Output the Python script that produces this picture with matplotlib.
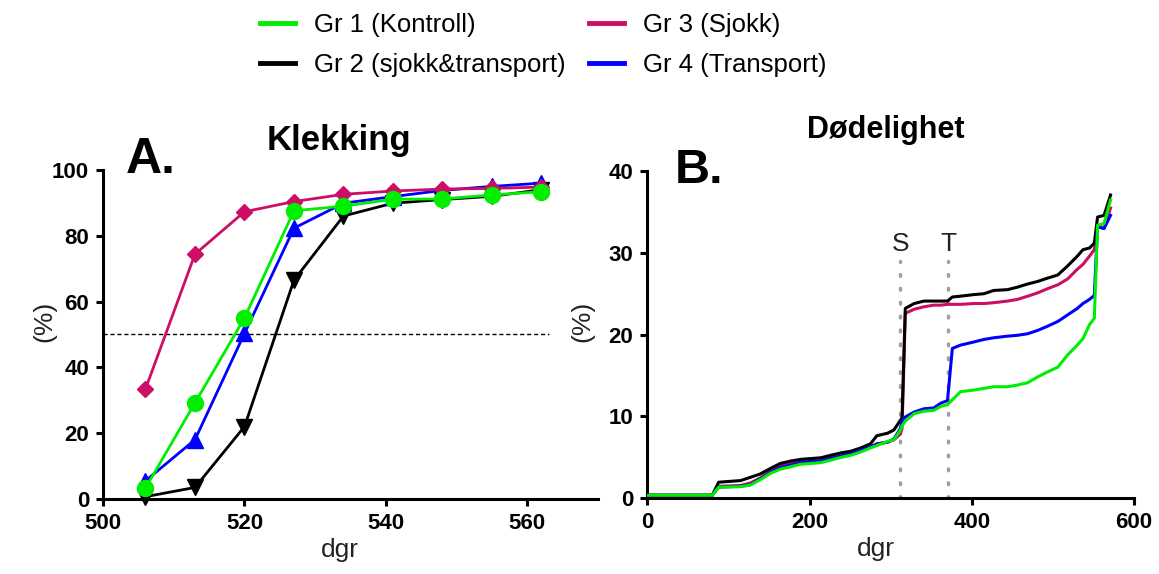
import matplotlib
matplotlib.use("Agg")
import matplotlib.pyplot as plt
from matplotlib.lines import Line2D

plt.rcParams['font.family'] = ['Liberation Sans', 'DejaVu Sans']

# colours per group
c_gr1 = '#00ee00'
c_gr2 = '#000000'
c_gr3 = '#cc0e66'
c_gr4 = '#0000ff'

labels = ['Gr 1 (Kontroll)', 'Gr 2 (sjokk&transport)', 'Gr 3 (Sjokk)', 'Gr 4 (Transport)']

# A. Klekking (hatching, %)
dgr_a = [506, 513, 520, 527, 534, 541, 548, 555, 562]
klekk_gr1 = [3.3, 29.2, 55.0, 87.6, 89.0, 91.1, 91.2, 92.4, 93.4]
klekk_gr2 = [0.7, 3.5, 22.0, 66.5, 86.0, 89.9, 91.0, 92.0, 94.0]
klekk_gr3 = [33.4, 74.4, 87.3, 90.4, 92.6, 93.6, 94.2, 94.4, 94.8]
klekk_gr4 = [5.5, 18.0, 50.3, 82.3, 89.9, 91.9, 93.8, 95.0, 96.0]

# B. Dødelighet (cumulative mortality, %)
dgr_b = [0, 80, 88, 115, 127, 139, 152, 164, 177, 189, 202, 214, 226, 239, 251,
         263, 275, 283, 296, 304, 312, 314, 318, 329, 341, 353, 362, 370, 376, 386,
         403, 415, 427, 444, 456, 469, 481, 493, 506, 518, 530, 537, 545, 551, 555,
         563, 571]
dod_gr1 = [0.3, 0.3, 1.3, 1.35, 1.55, 2.2, 3.0, 3.5, 3.8, 4.1, 4.2, 4.3, 4.6, 4.95, 5.2,
           5.6, 6.1, 6.4, 6.9, 7.1, 8.3, 8.8, 9.4, 10.3, 10.6, 10.7, 11.2, 11.4, 12.0, 13.0,
           13.2, 13.4, 13.6, 13.6, 13.8, 14.1, 14.8, 15.4, 16.0, 17.5, 18.7, 19.5, 21.2, 22.0, 33.4,
           33.6, 36.5]
dod_gr2 = [0.3, 0.3, 1.9, 2.1, 2.5, 2.9, 3.6, 4.2, 4.5, 4.7, 4.8, 4.9, 5.2, 5.5, 5.7,
           6.1, 6.6, 7.6, 7.9, 8.3, 9.5, 9.8, 23.2, 23.8, 24.1, 24.1, 24.1, 24.1, 24.6, 24.7,
           24.9, 25.0, 25.4, 25.5, 25.8, 26.2, 26.5, 26.9, 27.3, 28.4, 29.6, 30.4, 30.6, 31.2, 34.4,
           34.6, 37.1]
dod_gr3 = [0.3, 0.3, 1.4, 1.5, 1.8, 2.4, 3.3, 3.9, 4.2, 4.4, 4.5, 4.6, 4.9, 5.2, 5.4,
           5.8, 6.2, 6.6, 6.8, 7.1, 7.8, 8.5, 22.6, 23.1, 23.4, 23.6, 23.6, 23.7, 23.7, 23.7,
           23.8, 23.8, 23.9, 24.1, 24.3, 24.7, 25.1, 25.6, 26.1, 26.8, 28.0, 28.6, 29.6, 30.4, 33.2,
           33.0, 35.5]
dod_gr4 = [0.3, 0.3, 1.3, 1.4, 1.6, 2.3, 3.1, 3.7, 4.0, 4.3, 4.4, 4.5, 4.8, 5.1, 5.4,
           5.8, 6.2, 6.6, 6.8, 7.2, 8.5, 9.4, 9.9, 10.5, 10.9, 11.0, 11.6, 11.9, 18.3, 18.7,
           19.1, 19.4, 19.6, 19.8, 19.9, 20.1, 20.5, 21.0, 21.6, 22.4, 23.2, 23.8, 24.3, 24.8, 33.2,
           33.0, 34.6]

s_dgr = 312   # sjokk
t_dgr = 371   # transport

fig = plt.figure(figsize=(11.59, 5.74), dpi=100)
axA = fig.add_axes([0.0889, 0.1307, 0.4271, 0.5732])
axB = fig.add_axes([0.5585, 0.1329, 0.4200, 0.5686])


def style_axis(ax, ylab_x, xlab_x):
    for s in ['top', 'right']:
        ax.spines[s].set_visible(False)
    for s in ['left', 'bottom']:
        ax.spines[s].set_linewidth(2.2)
    ax.tick_params(width=2.2, length=5, labelsize=16, pad=5)
    for lab in ax.get_xticklabels() + ax.get_yticklabels():
        lab.set_fontweight('bold')
    ax.set_xlabel('dgr', fontsize=19, color='#222222')
    ax.set_ylabel('(%)', fontsize=19, color='#222222')
    ax.yaxis.set_label_coords(ylab_x, 0.54)
    ax.xaxis.set_label_coords(xlab_x, -0.12)


# panel A
axA.axhline(50, xmin=0, xmax=(563 - 500) / 70.0, color='black', lw=1, ls=(0, (3, 2)))
axA.plot(dgr_a, klekk_gr2, color=c_gr2, lw=2, marker='v', ms=11, clip_on=False, zorder=3)
axA.plot(dgr_a, klekk_gr4, color=c_gr4, lw=2, marker='^', ms=11, clip_on=False, zorder=3)
axA.plot(dgr_a, klekk_gr3, color=c_gr3, lw=2, marker='D', ms=8.5, clip_on=False, zorder=3)
axA.plot(dgr_a, klekk_gr1, color=c_gr1, lw=2, marker='o', ms=11.5, clip_on=False, zorder=4)
axA.set_xlim(500, 570)
axA.set_ylim(0, 100)
axA.set_xticks([500, 520, 540, 560])
axA.set_yticks([0, 20, 40, 60, 80, 100])
style_axis(axA, -0.095, 0.479)

# panel B
for xv, lab in [(s_dgr, 'S'), (t_dgr, 'T')]:
    axB.plot([xv, xv], [0, 29], color='#a0a0a0', lw=2.5, ls=(0, (0.5, 3.5)),
             dash_capstyle='round', zorder=1)
    axB.text(xv, 29.6, lab, fontsize=19, ha='center', va='bottom', color='#222222')
axB.plot(dgr_b, dod_gr3, color=c_gr3, lw=2.2, zorder=2)
axB.plot(dgr_b, dod_gr2, color=c_gr2, lw=2.2, zorder=3)
axB.plot(dgr_b, dod_gr4, color=c_gr4, lw=2.2, zorder=3)
axB.plot(dgr_b, dod_gr1, color=c_gr1, lw=2.2, zorder=4)
axB.set_xlim(0, 600)
axB.set_ylim(0, 40)
axB.set_xticks([0, 200, 400, 600])
axB.set_yticks([0, 10, 20, 30, 40])
style_axis(axB, -0.109, 0.47)

# titles and panel letters
fig.text(0.2925, 1 - 150 / 574, 'Klekking', fontsize=25, fontweight='bold',
         ha='center', va='baseline')
fig.text(0.7645, 1 - 138 / 574, 'Dødelighet', fontsize=22, fontweight='bold',
         ha='center', va='baseline')
fig.text(126 / 1159, 1 - 173 / 574, 'A.', fontsize=36, fontweight='bold',
         ha='left', va='baseline')
fig.text(675 / 1159, 1 - 183 / 574, 'B.', fontsize=35, fontweight='bold',
         ha='left', va='baseline')

# legend at top
handles = [Line2D([], [], color=c, lw=3.5) for c in [c_gr1, c_gr2, c_gr3, c_gr4]]
fig.legend(handles, labels, loc='upper left', bbox_to_anchor=(0.204, 1.017), ncol=2,
           frameon=False, fontsize=18.5, handlelength=1.36, handletextpad=0.74,
           columnspacing=0.93, labelspacing=0.6)

fig.savefig('out.png', dpi=100)
